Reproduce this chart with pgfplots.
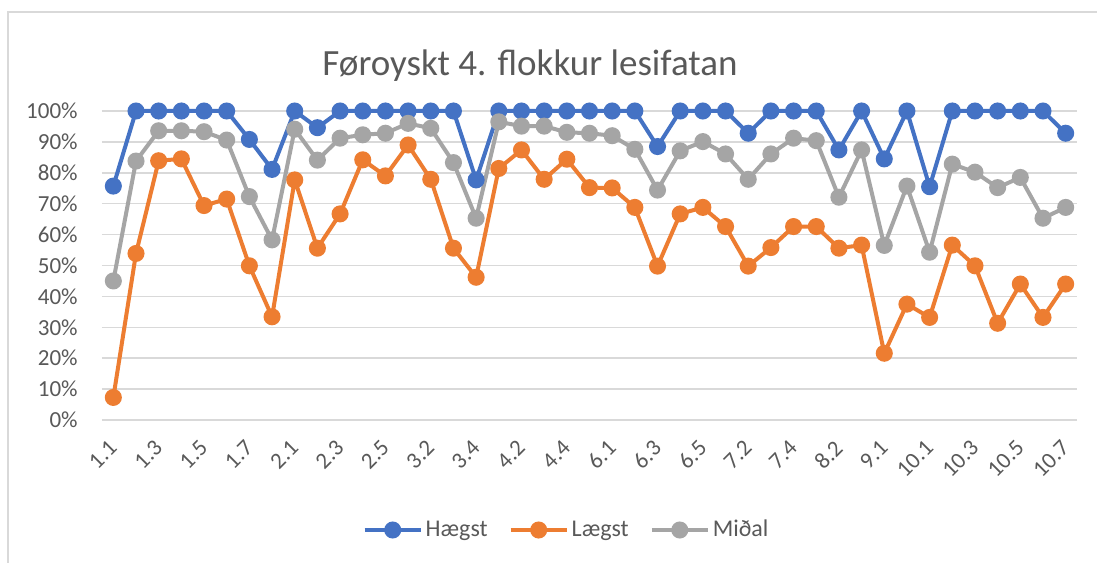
\documentclass[border=0pt]{standalone}
\usepackage{fontspec}
\setmainfont{Carlito}
\usepackage{pgfplots}
\usepackage{pgfplotstable}
\pgfplotsset{compat=1.18}
\definecolor{cblue}{HTML}{4472C4}
\definecolor{corange}{HTML}{ED7D31}
\definecolor{cgray}{HTML}{A5A5A5}
\definecolor{ctext}{HTML}{595959}
\definecolor{cgrid}{HTML}{D9D9D9}
\pgfplotstableread{
x h l m
0 75.7 7.3 45.0
1 100 53.9 83.8
2 100 83.9 93.6
3 100 84.5 93.6
4 100 69.4 93.3
5 100 71.5 90.6
6 90.8 49.9 72.3
7 81.1 33.4 58.3
8 100 77.7 94.1
9 94.6 55.6 84.1
10 100 66.7 91.2
11 100 84.2 92.3
12 100 79.0 92.8
13 100 89.0 96.0
14 100 77.9 94.4
15 100 55.6 83.3
16 77.7 46.2 65.3
17 100 81.4 96.5
18 100 87.4 95.1
19 100 77.9 95.1
20 100 84.4 93.1
21 100 75.2 92.8
22 100 75.1 92.0
23 100 68.8 87.6
24 88.5 49.8 74.4
25 100 66.7 87.1
26 100 68.8 90.1
27 100 62.6 86.1
28 92.8 49.8 77.9
29 100 55.8 86.1
30 100 62.6 91.2
31 100 62.6 90.4
32 87.4 55.6 72.1
33 100 56.6 87.4
34 84.5 21.6 56.5
35 100 37.5 75.7
36 75.5 33.2 54.3
37 100 56.6 82.8
38 100 49.9 80.2
39 100 31.3 75.2
40 100 44.0 78.5
41 100 33.2 65.3
42 92.8 44.0 68.8
}\data
\begin{document}
\begin{tikzpicture}
\useasboundingbox (0,0) rectangle (548.5bp,281.5bp);
\fill[white] (0,0) rectangle (548.5bp,281.5bp);
\draw[cgrid, line width=0.75bp] (4bp,0bp) -- (4bp,275.5bp) -- (548.5bp,275.5bp);
\node[text=ctext, font=\fontsize{18.5bp}{22bp}\selectfont] at (265bp,248.5bp) {Føroyskt 4. flokkur lesifatan};
\begin{axis}[
  at={(51bp,71.5bp)}, anchor=south west,
  scale only axis, width=487.5bp, height=154.5bp,
  xmin=-0.5, xmax=42.5, ymin=0, ymax=100,
  clip=false,
  axis line style={draw=none},
  major tick length=0pt,
  ymajorgrids, grid style={cgrid, line width=0.75bp},
  ytick={0,10,...,100},
  yticklabels={0\%,10\%,20\%,30\%,40\%,50\%,60\%,70\%,80\%,90\%,100\%},
  xtick={0,2,...,42},
  xticklabels={1.1,1.3,1.5,1.7,2.1,2.3,2.5,3.2,3.4,4.2,4.4,6.1,6.3,6.5,7.2,7.4,8.2,9.1,10.1,10.3,10.5,10.7},
  ticklabel style={text=ctext, font=\fontsize{11.5bp}{13bp}\selectfont},
  yticklabel style={inner sep=0pt, xshift=-12bp},
  xticklabel style={xshift=0bp, yshift=-12bp, rotate=45, anchor=east, inner sep=0pt},
  legend columns=3,
  legend style={at={(0.477,-0.356)}, anchor=center, draw=none, fill=none,
    font=\fontsize{12bp}{14bp}\selectfont, text=ctext,
    /tikz/every even column/.append style={column sep=9bp},
    nodes={inner sep=1.5bp}},
  legend image code/.code={\draw[mark repeat=2,mark phase=2] plot coordinates {(0bp,0bp) (14bp,0bp) (28bp,0bp)};},
  every axis plot/.append style={line width=2bp, mark=*, mark size=3.25bp},
]
\addplot[cblue, mark options={fill=cblue, draw=cblue}] table[x=x, y=h] {\data};
\addlegendentry{Hægst}
\addplot[corange, mark options={fill=corange, draw=corange}] table[x=x, y=l] {\data};
\addlegendentry{Lægst}
\addplot[cgray, mark options={fill=cgray, draw=cgray}] table[x=x, y=m] {\data};
\addlegendentry{Miðal}
\end{axis}
\end{tikzpicture}
\end{document}
